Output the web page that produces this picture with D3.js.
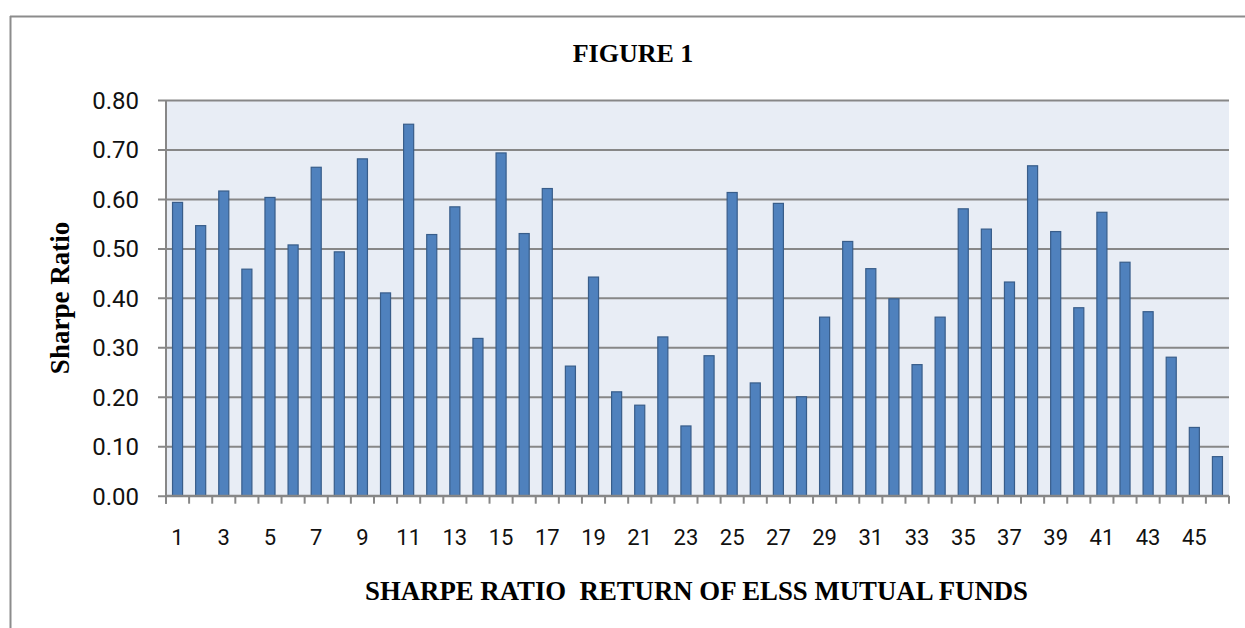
<!DOCTYPE html>
<html><head><meta charset="utf-8">
<script src="https://cdn.jsdelivr.net/npm/d3@7"></script>
<style>html,body{margin:0;padding:0;background:#fff;}svg{display:block;}</style>
</head><body>
<script>
const categories = d3.range(1, 47).map(String);
const sharpeValues = [0.593,0.546,0.616,0.458,0.603,0.507,0.664,0.493,0.681,0.410,
  0.751,0.528,0.584,0.318,0.693,0.530,0.621,0.262,0.442,0.210,
  0.183,0.321,0.141,0.283,0.613,0.228,0.591,0.200,0.361,0.514,
  0.459,0.398,0.265,0.361,0.580,0.539,0.432,0.667,0.534,0.380,
  0.573,0.472,0.372,0.280,0.138,0.079];
const yTicks = [0,0.1,0.2,0.3,0.4,0.5,0.6,0.7,0.8];
const xTickLabels = categories.filter((d,i)=>i%2===0);
const titleText = "FIGURE 1";
const xTitle = "SHARPE RATIO  RETURN OF ELSS MUTUAL FUNDS";
const yTitle = "Sharpe Ratio";

const W = 1245, H = 628;
const svg = d3.select("body").append("svg").attr("width", W).attr("height", H);

// outer frame (top and left lines)
svg.append("line").attr("x1",10).attr("x2",W).attr("y1",16.5).attr("y2",16.5).attr("stroke","#8c8c8c").attr("stroke-width",2);
svg.append("line").attr("x1",10.5).attr("x2",10.5).attr("y1",16).attr("y2",H).attr("stroke","#8c8c8c").attr("stroke-width",2);

const L = 166, R = 1229, T = 100, B = 495.7;
const x = d3.scaleBand().domain(categories).range([L, R]).paddingInner(0.565).paddingOuter(0.2825);
const y = d3.scaleLinear().domain([0, 0.8]).range([B, T]);

svg.append("rect").attr("x", L).attr("y", T).attr("width", R-L).attr("height", B-T).attr("fill", "#E8EDF5");

// gridlines with left ticks
const yAxis = d3.axisLeft(y).tickValues(yTicks).tickFormat(d3.format(".2f")).tickSize(-(R-L)).tickPadding(18);
const yg = svg.append("g").attr("transform", `translate(${L},0)`).call(yAxis);
yg.select(".domain").remove();
yg.selectAll(".tick line").attr("stroke","#878787").attr("stroke-width",2).attr("x1",-8);
yg.selectAll(".tick text").attr("font-family","Roboto, 'Open Sans', sans-serif").attr("font-size",24).attr("fill","#111").attr("x",-27).attr("dy","0.35em");

// left axis line
svg.append("line").attr("x1",L).attr("x2",L).attr("y1",T).attr("y2",B+8).attr("stroke","#878787").attr("stroke-width",2);

// bars
svg.append("g").selectAll("rect").data(sharpeValues).join("rect")
  .attr("x",(d,i)=>x(categories[i]))
  .attr("width",x.bandwidth())
  .attr("y",d=>y(d))
  .attr("height",d=>B-y(d))
  .attr("fill","#4F81BD").attr("stroke","#385D8A").attr("stroke-width",1.2);

// x axis with ticks between categories
const boundaries = d3.range(0, categories.length+1).map(i => L + i*(R-L)/categories.length);
svg.append("line").attr("x1",L).attr("x2",R).attr("y1",B).attr("y2",B).attr("stroke","#878787").attr("stroke-width",2);
svg.append("g").selectAll("line").data(boundaries).join("line")
  .attr("x1",d=>d).attr("x2",d=>d).attr("y1",B).attr("y2",B+8).attr("stroke","#878787").attr("stroke-width",2);

const xAxis = d3.axisBottom(x).tickValues(xTickLabels).tickSize(0).tickPadding(34);
const xg = svg.append("g").attr("transform",`translate(0,${B})`).call(xAxis);
xg.select(".domain").remove();
xg.selectAll(".tick text").attr("font-family","Roboto, 'Open Sans', sans-serif").attr("font-size",22).attr("fill","#111");

// titles
svg.append("text").attr("x",633).attr("y",62).attr("text-anchor","middle")
  .attr("font-family","'Liberation Serif', 'Times New Roman', serif").attr("font-weight","bold").attr("font-size",26).text(titleText);
svg.append("text").attr("x",365).attr("y",600).style("white-space","pre")
  .attr("font-family","'Liberation Serif', 'Times New Roman', serif").attr("font-weight","bold").attr("font-size",27)
  .attr("textLength",663).attr("lengthAdjust","spacingAndGlyphs").text(xTitle);
svg.append("text").attr("transform","translate(69,298) rotate(-90)").attr("text-anchor","middle")
  .attr("font-family","'Liberation Serif', 'Times New Roman', serif").attr("font-weight","bold").attr("font-size",27).text(yTitle);
</script>
</body></html>
